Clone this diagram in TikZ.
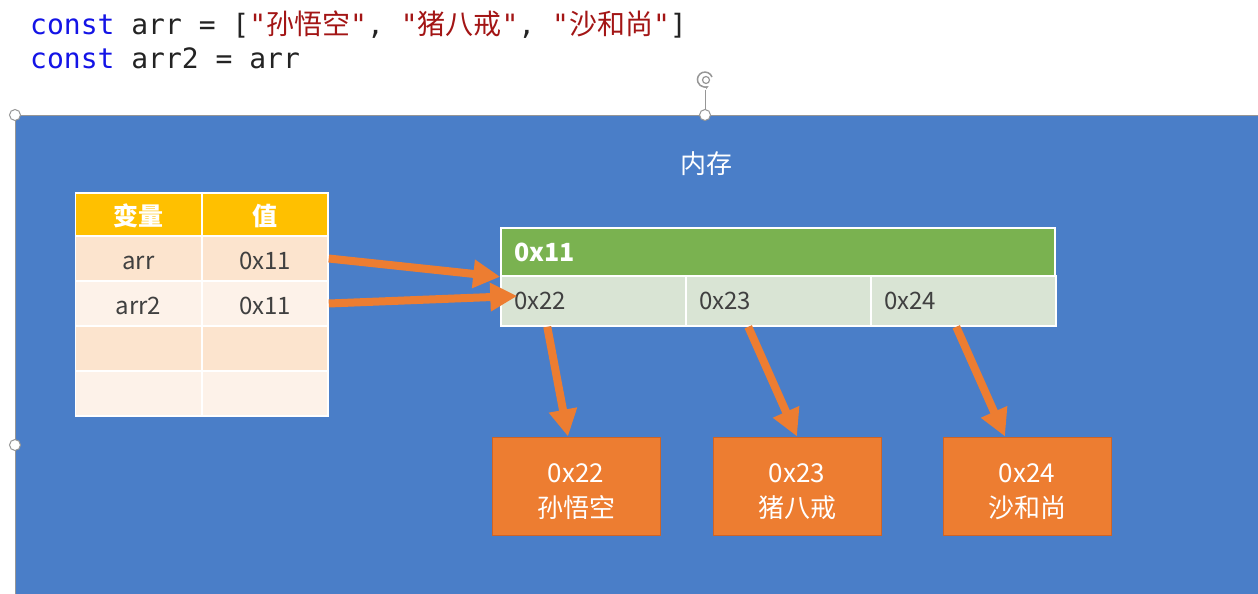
\documentclass[tikz,border=0pt]{standalone}
\usepackage{fontspec}
\setmainfont{Noto Sans CJK SC}
\setmonofont{DejaVu Sans Mono}
\newfontfamily\cjk{Noto Sans CJK SC}
\usetikzlibrary{arrows.meta}
\newcommand\kw[1]{\textcolor{myKey}{#1}}
\newcommand\str[1]{\textcolor{myStr}{"{\cjk #1}"}}

\begin{document}
\begin{tikzpicture}[x=1pt, y=-1pt,
    code/.style={anchor=base west, inner sep=0pt, text=myCode, font=\ttfamily\fontsize{28}{33}\selectfont},
    cell/.style={draw=white, line width=1.5pt, minimum width=126pt, minimum height=45pt, inner sep=0pt, text height=22pt, text depth=0pt, text=myText, font=\fontsize{24}{28}\selectfont},
    hdr/.style={cell, fill=myYellow, minimum height=43pt, text=white, font=\bfseries\fontsize{25}{28}\selectfont},
    memhead/.style={draw=white, line width=1.5pt, fill=myGreen, text=white, text width=528pt, inner xsep=13pt, minimum height=48pt, align=left, font=\bfseries\fontsize{25}{28}\selectfont},
    memcell/.style={draw=white, line width=1.5pt, fill=myCellGreen, text=myText, text width=159pt, inner xsep=13pt, minimum height=50pt, align=left, font=\fontsize{24}{28}\selectfont},
    box/.style={fill=myOrange, draw=myOrangeDark, line width=1pt, minimum width=168pt, minimum height=98pt, text=white, align=center, font=\fontsize{26}{35}\selectfont},
    ptr/.style={myOrange, line width=8pt, -{Triangle[length=27pt,width=27pt]}}]
    \definecolor{myBlue}{RGB}{74,126,200}
    \definecolor{myHandle}{RGB}{150,150,150}
    \definecolor{myYellow}{RGB}{255,192,0}
    \definecolor{myRowA}{RGB}{252,228,206}
    \definecolor{myRowB}{RGB}{253,242,233}
    \definecolor{myGreen}{RGB}{122,178,80}
    \definecolor{myCellGreen}{RGB}{217,228,212}
    \definecolor{myOrange}{RGB}{237,125,49}
    \definecolor{myOrangeDark}{RGB}{205,100,40}
    \definecolor{myText}{RGB}{64,64,64}
    \definecolor{myCode}{RGB}{35,35,35}
    \definecolor{myKey}{RGB}{20,20,230}
    \definecolor{myStr}{RGB}{163,21,21}

    \useasboundingbox (0,0) rectangle (1258,594);
    \fill[white] (0,0) rectangle (1258,594);

    % code
    \node[code] (line1) at (30,35) {\kw{const} arr = [\str{孙悟空}, \str{猪八戒}, \str{沙和尚}]};
    \node[code] (line2) at (30,68) {\kw{const} arr2 = arr};

    % memory area
    \fill[myBlue] (15,115) rectangle (1258,594);
    \draw[myHandle, line width=1pt] (15,594) -- (15,115) -- (1258,115);
    \draw[myHandle, line width=1pt] (705,115) -- (705,90);
    \foreach \p in {(15,115),(705,115),(15,445)}
        \filldraw[draw=myHandle, fill=white, line width=1pt] \p circle[radius=5.5pt];
    \draw[myHandle, line width=1.5pt, -{Stealth[length=4pt]}] (712,77) arc[start angle=20, end angle=300, radius=7.5pt];
    \draw[myHandle, line width=1.2pt] (706,80) circle[radius=3.5pt];
    \node[text=white, font=\fontsize{26}{30}\selectfont] (title) at (706,164) {内存};

    % table
    \node[hdr] (h1) at (138.5,214.5) {变量};
    \node[hdr] (h2) at (265,214.5) {值};
    \node[cell, fill=myRowA] (n1) at (138.5,258.5) {arr};
    \node[cell, fill=myRowA] (v1) at (265,258.5) {0x11};
    \node[cell, fill=myRowB] (n2) at (138.5,303.5) {arr2};
    \node[cell, fill=myRowB] (v2) at (265,303.5) {0x11};
    \node[cell, fill=myRowA] (n3) at (138.5,348.5) {};
    \node[cell, fill=myRowA] (v3) at (265,348.5) {};
    \node[cell, fill=myRowB] (n4) at (138.5,393.5) {};
    \node[cell, fill=myRowB] (v4) at (265,393.5) {};

    % array in heap
    \node[memhead] (mem) at (778,252) {0x11};
    \node[memcell] (c22) at (593.5,301) {0x22};
    \node[memcell] (c23) at (778.5,301) {0x23};
    \node[memcell] (c24) at (963.5,301) {0x24};

    \node[box] (b22) at (576,486) {\rule{0pt}{31pt}0x22\\孙悟空};
    \node[box] (b23) at (797,486) {\rule{0pt}{31pt}0x23\\猪八戒};
    \node[box] (b24) at (1027,486) {\rule{0pt}{31pt}0x24\\沙和尚};

    % pointers
    \draw[ptr] (v1.east) -- (mem.south west);
    \draw[ptr] (v2.east) -- ([xshift=17pt,yshift=5pt]c22.west);
    \draw[ptr] ([xshift=47pt]c22.south west) -- ([xshift=-8pt]b22.north);
    \draw[ptr] ([xshift=63pt]c23.south west) -- (b23.north);
    \draw[ptr] ([xshift=86pt]c24.south west) -- ([xshift=-22pt]b24.north);
\end{tikzpicture}
\end{document}
